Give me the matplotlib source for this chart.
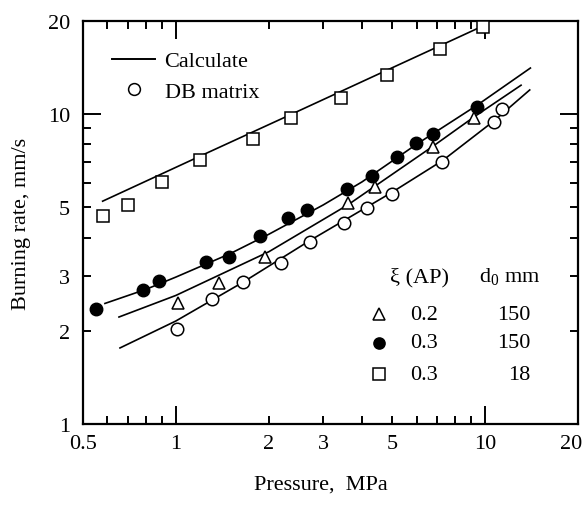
#!/usr/bin/env python3

import matplotlib
matplotlib.use('Agg')
import matplotlib.pyplot as plt
import matplotlib.transforms as mtransforms
from matplotlib.lines import Line2D

plt.rcParams['font.family'] = ['Liberation Serif', 'DejaVu Serif']
plt.rcParams['mathtext.fontset'] = 'custom'
plt.rcParams['mathtext.rm'] = 'Liberation Serif'
plt.rcParams['font.size'] = 16

# measured points (pressure MPa, burning rate mm/s)
sq_p = [0.58, 0.70, 0.905, 1.20, 1.78, 2.35, 3.41, 4.80, 7.17, 9.82]
sq_r = [4.71, 5.09, 6.04, 7.10, 8.35, 9.71, 11.29, 13.37, 16.23, 19.08]

dot_p = [0.551, 0.783, 0.882, 1.255, 1.485, 1.865, 2.31, 2.66, 3.57, 4.31,
         5.17, 5.98, 6.79, 9.42]
dot_r = [2.35, 2.715, 2.90, 3.34, 3.46, 4.06, 4.62, 4.91, 5.75, 6.31,
         7.30, 8.10, 8.64, 10.59]

tri_p = [1.02, 1.38, 1.94, 3.60, 4.42, 6.79, 9.23]
tri_r = [2.46, 2.85, 3.46, 5.18, 5.83, 7.86, 9.75]

open_p = [1.011, 1.305, 1.65, 2.18, 2.71, 3.50, 4.16, 4.98, 7.27, 10.65, 11.31]
open_r = [2.025, 2.53, 2.87, 3.31, 3.87, 4.47, 4.98, 5.54, 6.99, 9.47, 10.38]

# calculated curves
calc_sq_p = [0.58, 1.2, 2.4, 4.8, 10.14]
calc_sq_r = [5.24, 7.33, 10.07, 13.86, 19.55]
calc_dot_p = [0.59, 0.8, 1.0, 1.5, 2.0, 3.0, 4.0, 6.0, 9.42, 14.0]
calc_dot_r = [2.45, 2.72, 2.98, 3.55, 4.1, 5.1, 6.05, 8.0, 10.7, 14.1]
calc_tri_p = [0.655, 1.0, 2.0, 3.6, 6.8, 9.2, 13.06]
calc_tri_r = [2.215, 2.6, 3.6, 5.1, 7.9, 9.8, 12.41]
calc_open_p = [0.66, 1.0, 1.65, 2.7, 5.0, 7.3, 10.65, 13.93]
calc_open_r = [1.76, 2.15, 2.87, 3.9, 5.6, 7.1, 9.5, 11.98]

x_labels = [0.5, 1, 2, 3, 5, 10, 20]
x_minor = [0.6, 0.7, 0.8, 0.9, 4, 6, 7, 8, 9]
y_labels = [1, 2, 3, 5, 10, 20]
y_minor = [4, 6, 7, 8, 9]

table_xi = ['0.2', '0.3', '0.3']
table_d0 = ['150', '150', '18']


def main():
    fig = plt.figure(figsize=(5.86, 5.06), dpi=100)
    ax = fig.add_axes([0.1411, 0.1601, 0.8458, 0.7964])
    ax.set_xscale('log')
    ax.set_yscale('log')
    ax.set_xlim(0.5, 20)
    ax.set_ylim(1, 20)

    lw = 1.2
    ms = 8.5
    for cp, cr in [(calc_sq_p, calc_sq_r), (calc_dot_p, calc_dot_r),
                   (calc_tri_p, calc_tri_r), (calc_open_p, calc_open_r)]:
        ax.plot(cp, cr, color='black', lw=lw, zorder=2)

    ax.plot(sq_p, sq_r, 's', ms=ms, mfc='white', mec='black', mew=1.1, zorder=3)
    ax.plot(dot_p, dot_r, 'o', ms=ms + 0.5, mfc='black', mec='black', zorder=3)
    ax.plot(tri_p, tri_r, '^', ms=ms, mfc='white', mec='black', mew=1.1, zorder=3)
    ax.plot(open_p, open_r, 'o', ms=ms + 0.5, mfc='white', mec='black', mew=1.1, zorder=3)

    ax.set_xticks(x_labels)
    ax.set_xticklabels([str(v) for v in x_labels])
    ax.set_xticks(x_minor, minor=True)
    ax.set_xticklabels([], minor=True)
    ax.set_yticks(y_labels)
    ax.set_yticklabels([str(v) for v in y_labels])
    ax.set_yticks(y_minor, minor=True)
    ax.set_yticklabels([], minor=True)

    ax.tick_params(which='both', direction='in', top=True, right=True,
                   width=1.4, labelsize=16)
    ax.tick_params(which='major', length=13)
    ax.tick_params(which='minor', length=6)
    ax.tick_params(axis='x', pad=7)
    ax.tick_params(axis='y', pad=9)
    # only decade ticks are long
    for axis in (ax.xaxis, ax.yaxis):
        for t in axis.get_major_ticks():
            if t.get_loc() not in (1, 10):
                t.tick1line.set_markersize(6)
                t.tick2line.set_markersize(6)
    for s in ax.spines.values():
        s.set_linewidth(1.6)

    # keep the last x label inside the figure
    last = ax.get_xticklabels()[-1]
    last.set_transform(last.get_transform() +
                       mtransforms.ScaledTranslation(-5 / 72, 0, fig.dpi_scale_trans))

    ax.set_xlabel('Pressure,  MPa', fontsize=16, labelpad=16, x=0.48)
    ax.set_ylabel('Burning rate, mm/s', fontsize=16, labelpad=12)

    handles = [Line2D([], [], color='black', lw=1.4),
               Line2D([], [], ls='none', marker='o', ms=ms, mfc='white',
                      mec='black', mew=1.1)]
    ax.legend(handles, ['Calculate', 'DB matrix'], loc='upper left',
              bbox_to_anchor=(0.042, 0.948), frameon=False, fontsize=16,
              handlelength=1.9, handletextpad=0.45, labelspacing=0.45,
              borderaxespad=0)

    # symbol table, lower right
    tr = ax.transAxes
    ax.text(0.62, 0.366, 'ξ (AP)', transform=tr, ha='left', va='center')
    ax.text(0.80, 0.366, r'd$_{\mathrm{0}}$ mm', transform=tr, ha='left', va='center')
    rows_y = [0.272, 0.202, 0.123]
    markers = [('^', 'white'), ('o', 'black'), ('s', 'white')]
    for yy, (m, fc), xi, d0 in zip(rows_y, markers, table_xi, table_d0):
        ax.plot([0.597], [yy], m, transform=tr, ms=8, mfc=fc, mec='black',
                mew=1.1, clip_on=False)
        ax.text(0.66, yy, xi, transform=tr, ha='left', va='center')
        ax.text(0.904, yy, d0, transform=tr, ha='right', va='center')

    fig.savefig('out.png', dpi=100)


if __name__ == '__main__':
    main()
